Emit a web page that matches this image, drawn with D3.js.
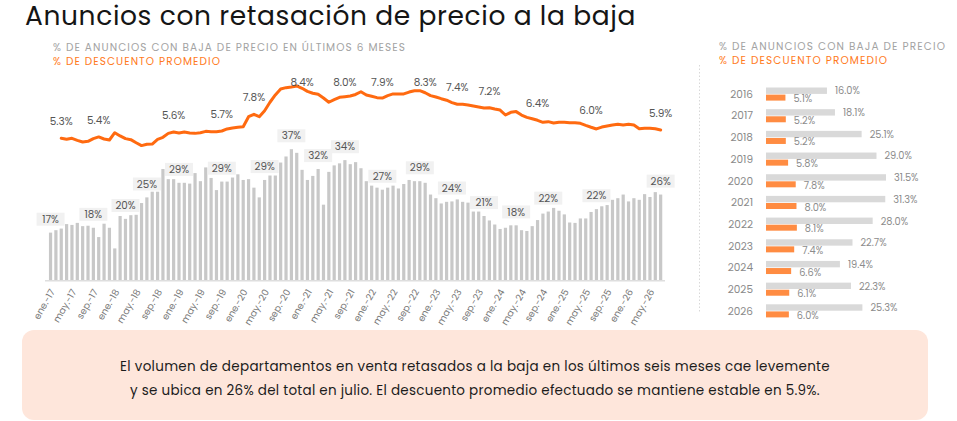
<!DOCTYPE html>
<html>
<head>
<meta charset="utf-8">
<script src="https://cdn.jsdelivr.net/npm/d3@7"></script>
<style>
  body { margin: 0; background: #fff; }
  svg text { font-family: "Poppins", "Open Sans", sans-serif; }
</style>
</head>
<body>
<div id="chart"></div>
<script>
// month names used to build the categories (ene.-17 ... jul.-26)
const monthNames = ["ene.", "feb.", "mar.", "abr.", "may.", "jun.", "jul.", "ago.", "sep.", "oct.", "nov.", "dic."];
const firstYear = 17;

// % de anuncios con baja de precio en los últimos 6 meses (monthly)
const shareWithCut = [
  16.7, 17.3, 17.7, 18.8, 18.6, 19.1, 18.3, 18.4, 17.9, 15.6, 18.9, 17.9,
  12.8, 20.8, 20.1, 21.0, 21.1, 24.0, 25.4, 26.8, 26.8, 32.4, 29.9, 29.9,
  29.0, 29.0, 28.8, 31.4, 29.4, 32.8, 30.2, 27.2, 29.3, 29.3, 30.3, 31.1,
  29.7, 29.9, 27.8, 25.4, 29.7, 30.8, 30.8, 34.0, 35.5, 37.3, 36.4, 32.2,
  29.7, 30.7, 32.4, 23.6, 31.7, 33.3, 33.8, 34.6, 33.6, 34.1, 32.6, 29.4,
  28.3, 27.8, 27.3, 27.8, 28.3, 27.6, 28.7, 29.7, 29.4, 29.4, 29.0, 26.1,
  25.2, 23.9, 24.3, 24.4, 24.9, 24.3, 24.1, 21.9, 21.9, 20.8, 19.7, 18.7,
  17.6, 17.9, 18.5, 18.5, 17.3, 17.1, 18.3, 19.8, 21.4, 21.9, 22.8, 22.1,
  21.2, 19.2, 19.1, 20.2, 20.2, 21.8, 22.5, 23.2, 23.5, 24.8, 25.2, 26.1,
  24.4, 25.2, 24.8, 26.2, 25.5, 26.7, 26.1
];

// % de descuento promedio (monthly, starts in mar.-17)
const avgDiscount = [
  null, null, 5.30, 5.24, 5.30, 5.18, 5.08, 5.12, 5.28, 5.38, 5.26, 5.20,
  5.63, 5.44, 5.28, 5.22, 5.04, 4.87, 4.95, 4.96, 5.24, 5.36, 5.59, 5.67,
  5.61, 5.67, 5.61, 5.59, 5.63, 5.71, 5.69, 5.69, 5.73, 5.85, 5.91, 5.95,
  5.98, 6.57, 6.71, 6.57, 6.92, 7.42, 7.85, 8.20, 8.28, 8.32, 8.38, 8.24,
  8.06, 7.95, 7.89, 7.67, 7.42, 7.57, 7.71, 7.75, 7.79, 7.88, 8.04, 7.85,
  7.77, 7.69, 7.67, 7.81, 7.91, 7.91, 7.91, 8.02, 8.10, 8.10, 7.98, 7.81,
  7.73, 7.63, 7.54, 7.40, 7.30, 7.30, 7.26, 7.20, 7.14, 7.08, 7.10, 7.02,
  6.96, 6.67, 6.83, 6.87, 6.67, 6.53, 6.45, 6.36, 6.24, 6.28, 6.20, 6.24,
  6.24, 6.22, 6.22, 6.18, 6.06, 5.95, 5.85, 5.96, 6.02, 6.08, 6.12, 6.08,
  6.12, 6.08, 5.86, 5.89, 5.89, 5.86, 5.79
];

// annotated points
const barLabelIndex = [0, 8, 14, 18, 24, 32, 40, 45, 50, 55, 62, 69, 75, 81, 87, 93, 102, 114];
const barLabelText = ["17%", "18%", "20%", "25%", "29%", "29%", "29%", "37%", "32%", "34%", "27%", "29%", "24%", "21%", "18%", "22%", "22%", "26%"];
const lineLabelIndex = [2, 9, 23, 32, 38, 47, 55, 62, 70, 76, 82, 91, 101, 114];
const lineLabelText = ["5.3%", "5.4%", "5.6%", "5.7%", "7.8%", "8.4%", "8.0%", "7.9%", "8.3%", "7.4%", "7.2%", "6.4%", "6.0%", "5.9%"];

// yearly summary
const years = ["2016", "2017", "2018", "2019", "2020", "2021", "2022", "2023", "2024", "2025", "2026"];
const yearShare = [16.0, 18.1, 25.1, 29.0, 31.5, 31.3, 28.0, 22.7, 19.4, 22.3, 25.3];
const yearDiscount = [5.1, 5.2, 5.2, 5.8, 7.8, 8.0, 8.1, 7.4, 6.6, 6.1, 6.0];

const title = "Anuncios con retasación de precio a la baja";
const noteLines = [
  "El volumen de departamentos en venta retasados a la baja en los últimos seis meses cae levemente",
  "y se ubica en 26% del total en julio. El descuento promedio efectuado se mantiene estable en 5.9%."
];

class RetasacionChart {
  constructor(parentElement, config) {
    this.parentElement = parentElement;
    this.config = {
      containerWidth: config.containerWidth || 957,
      containerHeight: config.containerHeight || 421,
      gray: "#c8c8c8",
      orange: "#ff6a10",
      lightOrange: "#ff8c42",
      textGray: "#8c8c8c"
    };
    this.initVis();
  }

  initVis() {
    let vis = this;
    vis.months = shareWithCut.map((d, i) => monthNames[i % 12] + "-" + (firstYear + Math.floor(i / 12)));

    vis.svg = d3.select(vis.parentElement)
      .append('svg')
      .attr('width', vis.config.containerWidth)
      .attr('height', vis.config.containerHeight);

    vis.renderHeaders();
    vis.renderBars();
    vis.renderLine();
    vis.renderYearPanel();
    vis.renderNote();
  }

  // stretch a text to a given width with letter spacing (keeps the font size)
  fit(sel, width) {
    const w = sel.node().getComputedTextLength();
    const n = sel.text().length;
    sel.attr('letter-spacing', ((width - w) / n).toFixed(3));
  }

  renderHeaders() {
    let vis = this;
    vis.fit(vis.svg.append('text')
      .attr('x', 25).attr('y', 24.5)
      .attr('font-size', 26.5)
      .attr('fill', '#151515')
      .text(title), 611);

    const heads = [
      { x: 53, y: 51, t: "% DE ANUNCIOS CON BAJA DE PRECIO EN ÚLTIMOS 6 MESES", c: "#a3a3a3", w: 353 },
      { x: 53, y: 64.5, t: "% DE DESCUENTO PROMEDIO", c: "#ff7a1c", w: 168 },
      { x: 719, y: 50, t: "% DE ANUNCIOS CON BAJA DE PRECIO", c: "#a3a3a3", w: 227 },
      { x: 719, y: 64, t: "% DE DESCUENTO PROMEDIO", c: "#ff7a1c", w: 169 }
    ];
    heads.forEach(h => {
      vis.fit(vis.svg.append('text')
        .attr('x', h.x).attr('y', h.y)
        .attr('font-size', 10.5)
        .attr('fill', h.c)
        .text(h.t), h.w);
    });
  }

  renderBars() {
    let vis = this;

    vis.xScale = d3.scaleBand()
      .domain(vis.months)
      .range([46.8, 664.4])
      .padding(0.4);

    vis.yBar = d3.scaleLinear()
      .domain([5, 40])
      .range([280, 138.25]);

    // axis base line
    vis.svg.append('line')
      .attr('x1', 45).attr('x2', 665)
      .attr('y1', 280.7).attr('y2', 280.7)
      .attr('stroke', '#dedede')
      .attr('stroke-width', 1.5);

    vis.svg.selectAll('.bar')
      .data(shareWithCut)
      .enter()
      .append('rect')
      .attr('class', 'bar')
      .attr('x', (d, i) => vis.xScale(vis.months[i]))
      .attr('y', d => vis.yBar(d))
      .attr('width', vis.xScale.bandwidth())
      .attr('height', d => vis.yBar(5) - vis.yBar(d))
      .attr('fill', vis.config.gray);

    // tick labels every 4 months
    const tickMonths = vis.months.filter((d, i) => i % 4 === 0);
    vis.svg.selectAll('.tick-label')
      .data(tickMonths)
      .enter()
      .append('text')
      .attr('class', 'tick-label')
      .attr('transform', d => `translate(${vis.xScale(d) + vis.xScale.bandwidth() / 2 + 2},${290}) rotate(-60)`)
      .attr('text-anchor', 'end')
      .attr('dy', '0.35em')
      .attr('font-size', 9.4)
      .attr('fill', '#777')
      .text(d => d);

    // value boxes above some bars
    const lab = vis.svg.selectAll('.bar-label')
      .data(barLabelIndex)
      .enter()
      .append('g')
      .attr('class', 'bar-label')
      .attr('transform', d => `translate(${vis.xScale(vis.months[d]) + vis.xScale.bandwidth() / 2},${vis.yBar(shareWithCut[d]) - 13.4})`);

    lab.append('rect')
      .attr('x', -14).attr('y', -6.5)
      .attr('width', 28).attr('height', 13)
      .attr('fill', '#f1f1f1');

    lab.append('text')
      .attr('text-anchor', 'middle')
      .attr('dy', '0.35em')
      .attr('font-size', 10.3)
      .attr('fill', '#555')
      .text((d, i) => barLabelText[i]);
  }

  renderLine() {
    let vis = this;

    vis.yLine = d3.scaleLinear()
      .domain([5.3, 8.4])
      .range([138.3, 85.6]);

    const cx = i => vis.xScale(vis.months[i]) + vis.xScale.bandwidth() / 2;

    const line = d3.line()
      .defined(d => d !== null)
      .x((d, i) => cx(i))
      .y(d => vis.yLine(d));

    vis.svg.append('path')
      .datum(avgDiscount)
      .attr('d', line)
      .attr('fill', 'none')
      .attr('stroke', vis.config.orange)
      .attr('stroke-width', 3)
      .attr('stroke-linejoin', 'round')
      .attr('stroke-linecap', 'round');

    vis.svg.selectAll('.line-label')
      .data(lineLabelIndex)
      .enter()
      .append('text')
      .attr('class', 'line-label')
      .attr('x', d => cx(d))
      .attr('y', d => Math.max(82, vis.yLine(avgDiscount[d]) - 16.6))
      .attr('dy', '0.35em')
      .attr('text-anchor', 'middle')
      .attr('font-size', 10.5)
      .attr('fill', '#555')
      .text((d, i) => lineLabelText[i]);
  }

  renderYearPanel() {
    let vis = this;

    // dotted separator
    vis.svg.append('line')
      .attr('x1', 699.5).attr('x2', 699.5)
      .attr('y1', 65).attr('y2', 313)
      .attr('stroke', '#d8d8d8')
      .attr('stroke-dasharray', '1.5,2');

    const xYear = d3.scaleLinear().domain([0, 35]).range([766, 766 + 35 * 3.81]);
    const yRow = d3.scalePoint().domain(years).range([94.1, 310.9]);

    const row = vis.svg.selectAll('.year-row')
      .data(years)
      .enter()
      .append('g')
      .attr('class', 'year-row')
      .attr('transform', d => `translate(0,${yRow(d)})`);

    row.append('text')
      .attr('x', 753)
      .attr('dy', '0.35em')
      .attr('text-anchor', 'end')
      .attr('font-size', 10.5)
      .attr('fill', '#8a8a8a')
      .text(d => d);

    row.append('rect')
      .attr('x', xYear(0)).attr('y', -6.6)
      .attr('width', (d, i) => xYear(yearShare[i]) - xYear(0))
      .attr('height', 6.4)
      .attr('fill', '#d9d9d9');

    row.append('rect')
      .attr('x', xYear(0)).attr('y', 0.5)
      .attr('width', (d, i) => xYear(yearDiscount[i]) - xYear(0))
      .attr('height', 6)
      .attr('fill', vis.config.lightOrange);

    row.append('text')
      .attr('x', (d, i) => xYear(yearShare[i]) + 8)
      .attr('y', -3.1)
      .attr('dy', '0.35em')
      .attr('font-size', 9.8)
      .attr('fill', vis.config.textGray)
      .text((d, i) => yearShare[i].toFixed(1) + "%");

    row.append('text')
      .attr('x', (d, i) => xYear(yearDiscount[i]) + 8)
      .attr('y', 4.6)
      .attr('dy', '0.35em')
      .attr('font-size', 9.8)
      .attr('fill', vis.config.textGray)
      .text((d, i) => yearDiscount[i].toFixed(1) + "%");
  }

  renderNote() {
    let vis = this;
    vis.svg.append('rect')
      .attr('x', 22).attr('y', 330)
      .attr('width', 906).attr('height', 90)
      .attr('rx', 12)
      .attr('fill', '#fee6db');

    const widths = [710, 690];
    const base = [371, 395];
    noteLines.forEach((t, i) => {
      vis.fit(vis.svg.append('text')
        .attr('x', 475).attr('y', base[i])
        .attr('text-anchor', 'middle')
        .attr('font-size', 13.5)
        .attr('fill', '#1c1c1c')
        .text(t), widths[i]);
    });
  }
}

new RetasacionChart('#chart', {});
</script>
</body>
</html>
